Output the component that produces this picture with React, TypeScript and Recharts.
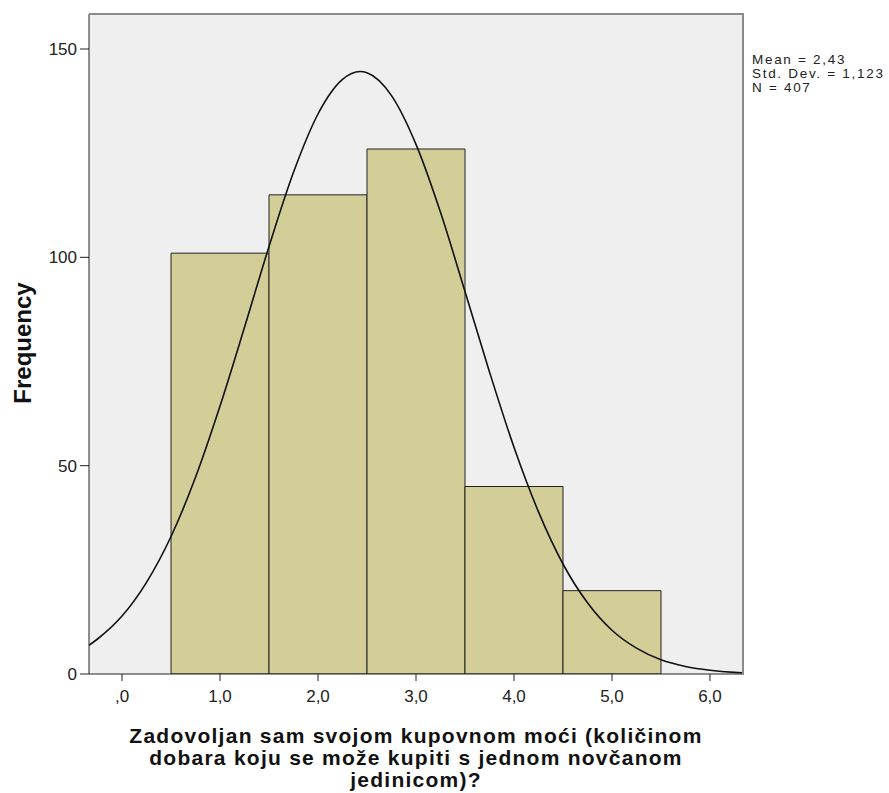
import {
  Bar,
  CartesianGrid,
  ComposedChart,
  Line,
  XAxis,
  YAxis,
} from "recharts";

// histogram bins (bin centre) and frequencies
const BIN_CENTERS = [1, 2, 3, 4, 5];
const FREQUENCIES = [101, 115, 126, 45, 20];

// normal curve
const CURVE_X = [
  -0.337, -0.25, 0, 0.25, 0.5, 0.75, 1, 1.25, 1.5, 1.75, 2, 2.25, 2.43, 2.5,
  2.75, 3, 3.25, 3.5, 3.75, 4, 4.25, 4.5, 4.75, 5, 5.25, 5.5, 5.75, 6, 6.25,
  6.337,
];
const CURVE_Y = [
  6.9, 8.4, 13.9, 22.0, 33.0, 47.2, 64.3, 83.2, 102.6, 120.4, 134.4, 142.7,
  144.6, 144.3, 138.8, 127.1, 110.8, 91.8, 72.5, 54.4, 38.9, 26.4, 17.1, 10.5,
  6.2, 3.4, 1.8, 0.9, 0.4, 0.3,
];

const X_TICKS = [0, 1, 2, 3, 4, 5, 6];
const Y_TICKS = [0, 50, 100, 150];
const X_DOMAIN = [-0.337, 6.337];
const Y_DOMAIN = [0, 158.4];

const STATS = ["Mean = 2,43", "Std. Dev. = 1,123", "N = 407"];
const X_TITLE = [
  "Zadovoljan sam svojom kupovnom moći (količinom",
  "dobara koju se može kupiti s jednom novčanom",
  "jedinicom)?",
];

const binData = BIN_CENTERS.map((x, i) => ({ x, freq: FREQUENCIES[i] }));
const curveData = CURVE_X.map((x, i) => ({ x, y: CURVE_Y[i] }));

const FONT = "'Liberation Sans', Arial, sans-serif";

const formatX = (v: number) => (v === 0 ? ",0" : v.toFixed(1).replace(".", ","));

export default function App() {
  return (
    <div
      style={{
        position: "absolute",
        left: 0,
        top: 0,
        width: 889,
        height: 793,
        background: "#fff",
        fontFamily: FONT,
      }}
    >
      <ComposedChart
        width={889}
        height={793}
        data={binData}
        barCategoryGap={0}
        margin={{ top: 14, right: 146, left: 0, bottom: 0 }}
      >
        <CartesianGrid horizontal={false} vertical={false} fill="#efefef" />
        <XAxis
          xAxisId="bins"
          dataKey="x"
          type="number"
          domain={X_DOMAIN}
          allowDataOverflow
          height={0}
          hide
        />
        <XAxis
          xAxisId="curve"
          dataKey="x"
          type="number"
          domain={X_DOMAIN}
          allowDataOverflow
          ticks={X_TICKS}
          tickFormatter={formatX}
          height={119}
          stroke="#222"
          tickSize={7}
          tickMargin={9}
          tick={{ fill: "#222", fontSize: 17, fontFamily: FONT }}
        />
        <YAxis
          type="number"
          domain={Y_DOMAIN}
          allowDataOverflow
          ticks={Y_TICKS}
          width={89}
          stroke="#222"
          tickSize={9}
          tickMargin={3}
          tick={{ fill: "#222", fontSize: 17, fontFamily: FONT }}
        />
        <Bar
          xAxisId="bins"
          dataKey="freq"
          fill="#d3ce97"
          stroke="#222"
          strokeWidth={1}
          isAnimationActive={false}
        />
        <Line
          xAxisId="curve"
          data={curveData}
          dataKey="y"
          type="monotone"
          stroke="#111"
          strokeWidth={1.6}
          dot={false}
          activeDot={false}
          isAnimationActive={false}
        />
      </ComposedChart>

      {/* top / right frame of the plot area */}
      <div
        style={{
          position: "absolute",
          left: 89,
          top: 13,
          width: 653,
          height: 660,
          borderTop: "2px solid #8a8a8a",
          borderRight: "2px solid #8a8a8a",
          pointerEvents: "none",
        }}
      />

      <div
        style={{
          position: "absolute",
          left: 752,
          top: 53,
          fontSize: 13.5,
          letterSpacing: "1.7px",
          lineHeight: "14px",
          color: "#222",
          whiteSpace: "nowrap",
        }}
      >
        {STATS.map((s) => (
          <div key={s}>{s}</div>
        ))}
      </div>

      <div
        style={{
          position: "absolute",
          left: 23,
          top: 343,
          transform: "translate(-50%, -50%) rotate(-90deg)",
          fontSize: 24,
          fontWeight: "bold",
          color: "#111",
          whiteSpace: "nowrap",
        }}
      >
        Frequency
      </div>

      <div
        style={{
          position: "absolute",
          left: 66,
          width: 700,
          top: 725,
          textAlign: "center",
          fontSize: 21,
          letterSpacing: "1.25px",
          fontWeight: "bold",
          lineHeight: "22px",
          color: "#111",
          whiteSpace: "nowrap",
        }}
      >
        {X_TITLE.map((s) => (
          <div key={s}>{s}</div>
        ))}
      </div>
    </div>
  );
}
